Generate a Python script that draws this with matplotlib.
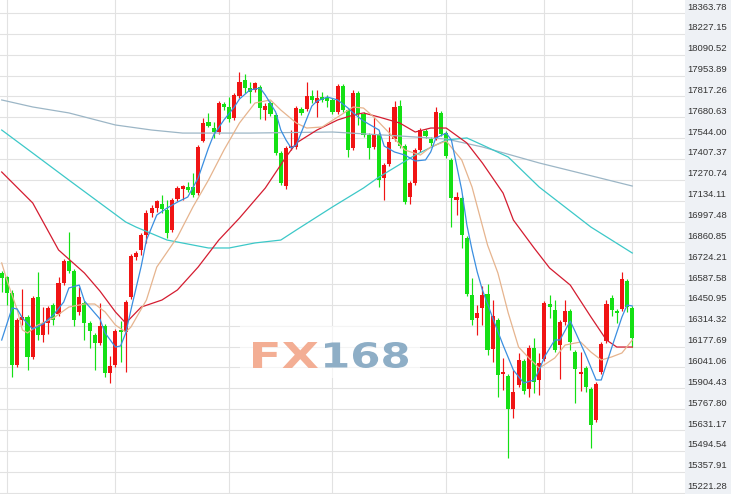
import matplotlib
matplotlib.use('Agg')
import matplotlib.pyplot as plt
import numpy as np
from matplotlib.textpath import TextPath
from matplotlib.patches import PathPatch, Rectangle
from matplotlib.font_manager import FontProperties
from matplotlib.transforms import Affine2D, ScaledTranslation, IdentityTransform

# ---------------- data ----------------
opens = [16660, 16634, 16529, 16057, 16352, 16372, 16110, 16503, 16254, 16332,
         16450, 16391, 16594, 16739, 16673, 16405, 16463, 16332, 16254, 16201,
         16313, 16005, 16057, 16287, 16273, 16503, 16765, 16811, 16909, 17053,
         17086, 17112, 17073, 16942, 17145, 17210, 17223, 17223, 17184, 17525,
         17650, 17610, 17584, 17767, 17748, 17676, 17820, 17925, 17872, 17859,
         17879, 17728, 17774, 17695, 17446, 17230, 17479, 17486, 17735, 17735,
         17820, 17774, 17813, 17807, 17794, 17715, 17885, 17728, 17479, 17840,
         17702, 17564, 17486, 17571, 17282, 17374, 17538, 17754, 17492, 17158,
         17250, 17466, 17591, 17538, 17545, 17709, 17577, 17401, 17138, 17151,
         16889, 16516, 16365, 16431, 16522, 16162, 16352, 15998, 15985, 15769,
         15926, 16083, 15900, 16169, 15959, 16096, 16457, 16418, 16188, 16339,
         16411, 16142, 15998, 16037, 15900, 15697, 16011, 16214, 16496, 16411,
         16424, 16608, 16431]
highs = [16673, 16640, 16549, 16365, 16555, 16385, 16509, 16667, 16437, 16444,
         16463, 16634, 16752, 16929, 16686, 16568, 16477, 16345, 16267, 16463,
         16326, 16116, 16293, 16345, 16483, 16784, 16804, 16922, 17073, 17106,
         17138, 17171, 17138, 17151, 17230, 17237, 17256, 17315, 17499, 17676,
         17709, 17650, 17787, 17781, 17813, 17840, 17977, 17964, 17912, 17912,
         17892, 17774, 17787, 17709, 17460, 17492, 17597, 17754, 17748, 17912,
         17859, 17859, 17846, 17826, 17807, 17899, 17899, 17741, 17859, 17853,
         17715, 17577, 17682, 17584, 17381, 17617, 17787, 17794, 17505, 17263,
         17479, 17610, 17604, 17551, 17748, 17722, 17591, 17414, 17191, 17165,
         16902, 16627, 16450, 16575, 16588, 16483, 16365, 16103, 15998, 16024,
         16136, 16096, 16188, 16234, 16136, 16477, 16516, 16483, 16352, 16483,
         16424, 16155, 16142, 16051, 15913, 15946, 16208, 16483, 16516, 16424,
         16667, 16621, 16444]
lows = [16536, 16450, 15979, 16044, 16319, 16024, 16096, 16221, 16208, 16260,
        16319, 16378, 16581, 16660, 16313, 16385, 16221, 16169, 16024, 16188,
        15979, 15939, 16044, 16077, 16011, 16490, 16745, 16778, 16857, 17027,
        17060, 17053, 16889, 16929, 17132, 17138, 17191, 17158, 17171, 17519,
        17617, 17545, 17571, 17728, 17650, 17663, 17807, 17840, 17774, 17846,
        17669, 17663, 17689, 17433, 17237, 17210, 17466, 17473, 17695, 17722,
        17774, 17682, 17781, 17748, 17702, 17702, 17715, 17420, 17466, 17630,
        17551, 17407, 17473, 17223, 17138, 17361, 17525, 17479, 17112, 17112,
        17237, 17453, 17545, 17492, 17532, 17558, 17414, 16961, 17040, 16824,
        16509, 16319, 16254, 16319, 16123, 16077, 15847, 15893, 15448, 15710,
        15913, 15867, 15847, 15874, 15861, 16083, 16365, 16142, 15965, 16319,
        16155, 15808, 15887, 15880, 15513, 15684, 15998, 16201, 16378, 16332,
        16411, 16405, 16175]
closes = [16627, 16529, 16057, 16352, 16372, 16110, 16496, 16254, 16332, 16431,
          16352, 16594, 16739, 16673, 16352, 16503, 16332, 16280, 16201, 16313,
          16005, 16051, 16280, 16273, 16470, 16771, 16791, 16909, 17053, 17086,
          17132, 17079, 16922, 17138, 17217, 17230, 17204, 17171, 17486, 17643,
          17623, 17584, 17774, 17748, 17669, 17826, 17912, 17872, 17846, 17905,
          17741, 17754, 17702, 17446, 17250, 17479, 17492, 17741, 17709, 17820,
          17794, 17807, 17794, 17787, 17715, 17885, 17728, 17466, 17840, 17702,
          17564, 17479, 17571, 17269, 17368, 17519, 17748, 17492, 17125, 17250,
          17466, 17597, 17558, 17512, 17715, 17571, 17427, 17151, 17158, 16909,
          16522, 16352, 16398, 16516, 16155, 16378, 15992, 16011, 15769, 15880,
          16090, 15887, 16169, 15946, 16070, 16463, 16437, 16155, 16339, 16411,
          16208, 16031, 16011, 15913, 15664, 15933, 16195, 16457, 16418, 16398,
          16621, 16437, 16234]

ma5_idx = [0, 2, 3, 4, 6, 8, 10, 12, 13, 15, 16, 18, 19, 20, 22, 23, 24, 25, 27, 28,
           30, 32, 34, 36, 38, 40, 41, 43, 45, 46, 48, 50, 51, 53, 54, 55, 56, 57, 58, 60,
           61, 63, 65, 67, 68, 70, 73, 74, 76, 78, 80, 82, 83, 84, 86, 87, 88, 89, 90, 91,
           92, 93, 95, 97, 99, 101, 103, 104, 105, 107, 108, 110, 111, 113, 115, 116, 118, 120, 121, 122]
ma5 = [16221, 16431, 16424, 16365, 16293, 16326, 16385, 16470, 16562, 16581,
       16477, 16398, 16359, 16267, 16175, 16182, 16267, 16418, 16706, 16876,
       17040, 17086, 17125, 17158, 17282, 17479, 17564, 17663, 17748, 17800,
       17859, 17872, 17826, 17715, 17597, 17532, 17479, 17499, 17584, 17754,
       17787, 17813, 17794, 17741, 17709, 17656, 17597, 17492, 17453, 17433,
       17394, 17401, 17453, 17545, 17577, 17532, 17368, 17204, 16974, 16811,
       16667, 16549, 16365, 16188, 16024, 15939, 15959, 16024, 16110, 16221,
       16221, 16345, 16273, 16123, 15959, 15959, 16169, 16372, 16450, 16444]

ma10_idx = [0, 1, 3, 4, 5, 7, 10, 13, 16, 18, 20, 22, 24, 25, 28, 30, 34, 37, 40, 43,
            46, 49, 52, 54, 57, 59, 62, 65, 68, 70, 72, 75, 78, 81, 83, 86, 89, 91, 94, 96,
            98, 100, 102, 104, 107, 109, 112, 114, 116, 118, 120, 122]
ma10 = [16726, 16614, 16418, 16287, 16267, 16319, 16365, 16437, 16457, 16457,
        16405, 16319, 16273, 16306, 16483, 16699, 16896, 17093, 17269, 17466,
        17643, 17774, 17794, 17728, 17643, 17610, 17617, 17682, 17748, 17741,
        17682, 17577, 17466, 17433, 17486, 17525, 17401, 17223, 16843, 16660,
        16398, 16175, 16103, 16037, 16103, 16188, 16208, 16142, 16090, 16110,
        16136, 16221]

ma20_idx = [0, 6, 11, 16, 19, 22, 24, 27, 31, 34, 38, 42, 46, 51, 55, 57, 61, 65, 68, 70,
            73, 77, 80, 83, 86, 90, 93, 97, 99, 103, 106, 110, 114, 117, 119, 122]
ma20 = [17322, 17119, 16811, 16660, 16542, 16405, 16332, 16437, 16483, 16549,
        16699, 16876, 17020, 17217, 17420, 17512, 17597, 17663, 17695, 17709,
        17682, 17643, 17584, 17610, 17610, 17512, 17381, 17184, 17007, 16824,
        16693, 16581, 16372, 16221, 16175, 16175]

ma60_idx = [0, 6, 13, 19, 24, 26, 32, 40, 44, 49, 54, 57, 64, 70, 73, 80, 86, 90, 93, 98,
            104, 114, 118, 122]
ma60 = [17597, 17446, 17269, 17119, 16994, 16961, 16876, 16824, 16824, 16857,
        16876, 16942, 17093, 17217, 17289, 17433, 17532, 17545, 17499, 17420,
        17223, 16961, 16876, 16791]

ma120_idx = [0, 6, 13, 22, 29, 35, 42, 48, 64, 77, 86, 93, 104, 115, 122]
ma120 = [17794, 17748, 17709, 17630, 17597, 17577, 17577, 17577, 17584, 17558,
         17538, 17486, 17381, 17289, 17230]

ytick_labels = ['18363.78', '18227.15', '18090.52', '17953.89', '17817.26', '17680.63',
                '17544.00', '17407.37', '17270.74', '17134.11', '16997.48', '16860.85',
                '16724.21', '16587.58', '16450.95', '16314.32', '16177.69', '16041.06',
                '15904.43', '15767.80', '15631.17', '15494.54', '15357.91', '15221.28']
month_lines = [1, 22, 44, 64, 86, 105, 122]

# ---------------- figure ----------------
W, H = 731, 494
fig = plt.figure(figsize=(W / 100, H / 100), dpi=100)
fig.patch.set_facecolor('white')
fig.patches.append(Rectangle((685 / W, 0), 1 - 685 / W, 1, transform=fig.transFigure,
                             facecolor='#eef1f5', edgecolor='none', zorder=-5))
ax = fig.add_axes([0, 0, 685 / W, 1])
ax.set_facecolor('white')
for s in ax.spines.values():
    s.set_visible(False)

RED = '#f01414'
GREEN = '#14e014'

o = np.array(opens, float)
h = np.array(highs, float)
l = np.array(lows, float)
c = np.array(closes, float)
x = np.arange(len(o))
up = c >= o
cols = np.where(up, RED, GREEN)
bottom = np.minimum(o, c)
height = np.maximum(np.abs(c - o), 7.0)

ax.vlines(x, l, h, colors=cols, linewidth=0.85, zorder=2)
ax.bar(x, height, bottom=bottom, width=0.8, color=cols, linewidth=0, zorder=2.1)

ax.plot(ma120_idx, ma120, color='#9cb6c6', lw=0.9, zorder=3)
ax.plot(ma60_idx, ma60, color='#3cc8c8', lw=0.9, zorder=3)
ax.plot(ma20_idx, ma20, color='#d41c30', lw=0.9, zorder=3)
ax.plot(ma10_idx, ma10, color='#e6b48e', lw=0.9, zorder=3)
ax.plot(ma5_idx, ma5, color='#3a8ee0', lw=0.9, zorder=3)

# watermark
ax.add_patch(Rectangle((240, H - 378), 180, 52, transform=IdentityTransform(),
                       facecolor='white', edgecolor='none', alpha=0.65, zorder=1.0))
fp = FontProperties(family='DejaVu Sans', weight='bold')


def wm(text, x0, x1, y0, y1, color):
    tp = TextPath((0, 0), text, size=100, prop=fp)
    ext = tp.get_extents()
    tr = (Affine2D().translate(-ext.x0, -ext.y0)
          .scale((x1 - x0) / ext.width, (y1 - y0) / ext.height)
          .translate(x0, H - y1))
    ax.add_patch(PathPatch(tr.transform_path(tp), transform=IdentityTransform(),
                           facecolor=color, edgecolor='none', zorder=1.2, clip_on=False))


wm('FX', 253, 318, 342, 368, '#f3ae94')
wm('168', 325, 408, 342, 368, '#8eaec6')

# axes / grid
yvals = [float(s) for s in ytick_labels]
ax.set_yticks(yvals)
ax.set_yticklabels([])
ax.set_xticks(month_lines)
ax.set_xticklabels([])
ax.tick_params(axis='both', length=0)
ax.grid(True, color='#e2e2e2', linewidth=0.8)
ax.set_axisbelow(True)

ax.set_xlim(-0.33, 132.2)
ax.set_ylim(15211.9, 18449.0)

# price labels in the right-hand panel, just above each grid line
lab_tr = ax.get_yaxis_transform() + ScaledTranslation(2 / 100, 6 / 100, fig.dpi_scale_trans)
for v, s in zip(yvals, ytick_labels):
    ax.text(1.0, v, s, transform=lab_tr, ha='left', va='center',
            fontsize=6.8, family='Liberation Sans', color='#333333', clip_on=False)

fig.savefig('out.png', dpi=100, facecolor='white')
